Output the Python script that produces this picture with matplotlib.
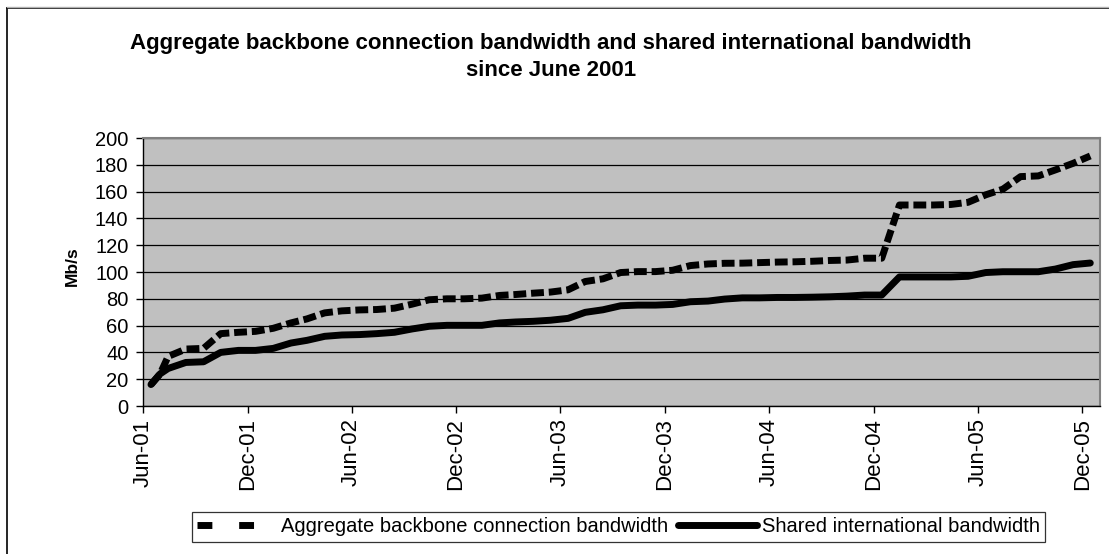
import matplotlib
matplotlib.use("Agg")
import matplotlib.pyplot as plt
from matplotlib.lines import Line2D
import datetime as dt

plt.rcParams['font.family'] = ['Liberation Sans', 'DejaVu Sans']

# Dates: first extra point at Jul 1 2001, otherwise the 15th of each month
months = [(2001, m) for m in range(6, 13)] + [(y, m) for y in (2002, 2003, 2004, 2005) for m in range(1, 13)]
dates = [dt.date(y, m, 15) for (y, m) in months]
dates.insert(1, dt.date(2001, 7, 1))

aggregate = [16, 24, 37, 42.5, 43, 54, 55, 55.7, 58, 62, 65, 69.5,
             71, 71.7, 72, 73, 76, 79.3, 80, 80, 80.5, 82.5, 83.2, 84.2, 85, 86.7,
             92.9, 94.9, 99.6, 100.3, 100.3, 101.3, 104.8, 106, 106.5, 106.6, 107,
             107.4, 107.6, 108, 108.6, 108.9, 110.3, 110.3,
             150, 150, 150, 150.4, 152, 157.6, 161.8, 171.2, 171.7, 176.2, 181.1, 186.6]
shared = [16, 24, 28, 32.5, 33, 40, 41.5, 41.5, 43, 47, 49, 52,
          53, 53.3, 54, 55, 57.5, 59.5, 60.2, 60.2, 60.2, 62, 62.7, 63.2, 64, 65.4,
          69.9, 71.8, 74.8, 75.3, 75.3, 75.8, 77.8, 78.3, 79.8, 80.7, 80.7,
          81, 81, 81.2, 81.5, 82, 82.8, 82.8,
          96.3, 96.3, 96.3, 96.3, 96.8, 99.6, 100.2, 100.2, 100.2, 102.2, 105.5, 106.7]

tick_dates = [dt.date(2001, 6, 1), dt.date(2001, 12, 1), dt.date(2002, 6, 1), dt.date(2002, 12, 1),
              dt.date(2003, 6, 1), dt.date(2003, 12, 1), dt.date(2004, 6, 1), dt.date(2004, 12, 1),
              dt.date(2005, 6, 1), dt.date(2005, 12, 1)]
tick_labels = ['Jun-01', 'Dec-01', 'Jun-02', 'Dec-02', 'Jun-03', 'Dec-03', 'Jun-04', 'Dec-04', 'Jun-05', 'Dec-05']
y_ticks = list(range(0, 201, 20))

title = "Aggregate backbone connection bandwidth and shared international bandwidth\nsince June 2001"
label_agg = "Aggregate backbone connection bandwidth"
label_shared = "Shared international bandwidth"

fig = plt.figure(figsize=(11.09, 5.54), dpi=100)
W, H = 1109, 554
ax = fig.add_axes([143 / W, 1 - 406 / H, (1100 - 143) / W, (406 - 138) / H])
ax.set_facecolor('#C0C0C0')

lw = 5.0
dash = (1.85, 0.7)
ax.plot(dates, aggregate, color='black', lw=lw, dashes=dash,
        dash_capstyle='butt', label=label_agg, zorder=3)
ax.plot(dates, shared, color='black', lw=lw, solid_capstyle='round',
        solid_joinstyle='round', label=label_shared, zorder=3)

ax.set_ylim(0, 200)
ax.set_yticks(y_ticks)
ax.set_xlim(dt.date(2001, 6, 1), dt.date(2006, 1, 1))
ax.set_xticks(tick_dates)
ax.set_xticklabels(tick_labels, rotation=90)
ax.tick_params(axis='both', direction='out', length=5, width=1, color='black')
ax.tick_params(axis='x', pad=4, labelsize=16)
ax.tick_params(axis='y', pad=5.5, labelsize=14.5)

ax.grid(axis='y', color='black', lw=0.9, zorder=1)
ax.set_axisbelow(True)
for s in ['top', 'right']:
    ax.spines[s].set_color('#808080')
    ax.spines[s].set_linewidth(1.5)
for s in ['left', 'bottom']:
    ax.spines[s].set_color('black')
    ax.spines[s].set_linewidth(1.0)

ax.set_ylabel('Mb/s', fontsize=12.5, fontweight='bold')
ax.yaxis.set_label_coords((80 - 143) / (1100 - 143), (406 - 266) / (406 - 138))

fig.text(551 / W, 1 - 57 / H, title, ha='center', va='center',
         fontsize=16, fontweight='bold', linespacing=1.4)

handles = [Line2D([0], [0], color='black', lw=lw, dashes=(2.14, 3.86), dash_capstyle='butt'),
           Line2D([0], [0], color='black', lw=lw, solid_capstyle='round')]
leg = fig.legend(handles, [label_agg, label_shared], loc='center',
                 bbox_to_anchor=(618.5 / W, 1 - 527 / H), ncol=2,
                 frameon=True, fancybox=False, edgecolor='black', fontsize=14.5,
                 handlelength=3.9, handletextpad=0.25, columnspacing=0.5,
                 borderpad=0.25, borderaxespad=0)
leg.get_frame().set_linewidth(0.9)

# outer chart frame
fig.add_artist(plt.Line2D([7 / W, 7 / W], [0, 1 - 8 / H], color='black', lw=1.2, transform=fig.transFigure))
fig.add_artist(plt.Line2D([7 / W, 1], [1 - 8 / H, 1 - 8 / H], color='black', lw=1.2, transform=fig.transFigure))
fig.add_artist(plt.Line2D([7 / W, 1], [1 - 7 / H, 1 - 7 / H], color='#B0B0B0', lw=1.0, transform=fig.transFigure))

fig.savefig('out.png', dpi=100)
